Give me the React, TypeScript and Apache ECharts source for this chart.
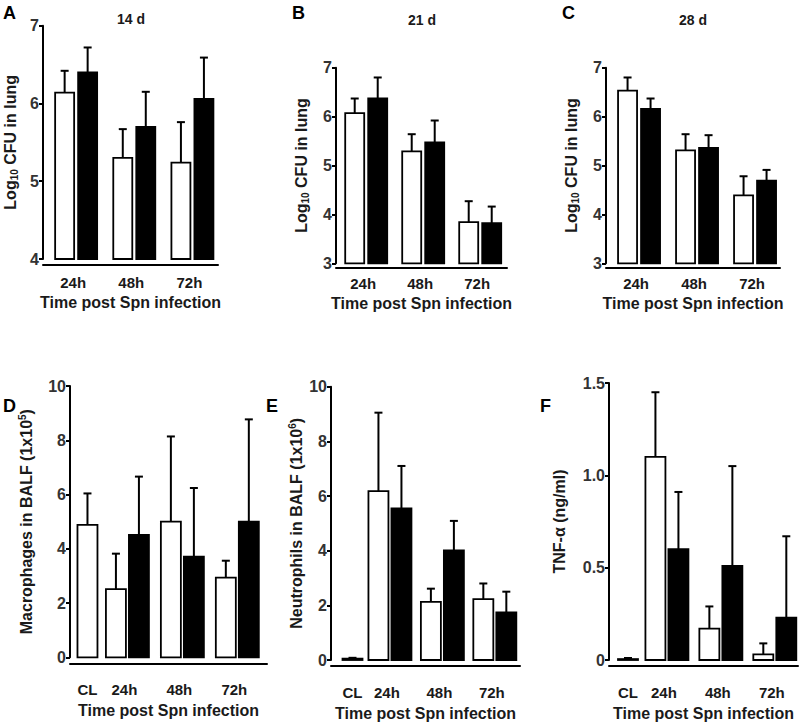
import React, { useEffect, useRef } from "react";
import * as echarts from "echarts";

const FONT = "'Liberation Sans', Arial, Helvetica, sans-serif";

// ---------- data ----------
const catsTop = ["24h", "48h", "72h"];
const catsBottom = ["CL", "24h", "48h", "72h"];

const d14White = [6.14, 5.3, 5.24];
const d14WhiteSd = [0.28, 0.37, 0.52];
const d14Black = [6.4, 5.7, 6.06];
const d14BlackSd = [0.32, 0.45, 0.53];

const d21White = [6.07, 5.29, 3.84];
const d21WhiteSd = [0.3, 0.35, 0.43];
const d21Black = [6.37, 5.47, 3.82];
const d21BlackSd = [0.43, 0.45, 0.34];

const d28White = [6.53, 5.31, 4.39];
const d28WhiteSd = [0.27, 0.33, 0.39];
const d28Black = [6.16, 5.36, 4.69];
const d28BlackSd = [0.21, 0.26, 0.22];

const macroWhite = [4.88, 2.51, 5.0, 2.94];
const macroWhiteSd = [1.16, 1.31, 3.14, 0.62];
const macroBlack = [null, 4.51, 3.71, 5.0];
const macroBlackSd = [null, 2.15, 2.53, 3.77];

const neutroWhite = [0.05, 6.18, 2.13, 2.23];
const neutroWhiteSd = [0.03, 2.87, 0.48, 0.57];
const neutroBlack = [null, 5.55, 4.01, 1.74];
const neutroBlackSd = [null, 1.55, 1.08, 0.76];

const tnfWhite = [0.005, 1.1, 0.17, 0.03];
const tnfWhiteSd = [0.006, 0.35, 0.12, 0.06];
const tnfBlack = [null, 0.6, 0.51, 0.23];
const tnfBlackSd = [null, 0.31, 0.54, 0.44];

const panelLetters = ["A", "B", "C", "D", "E", "F"];
const subtitles = ["14 d", "21 d", "28 d"];
const xTitle = "Time post Spn infection";
const yTitles = [
  "Log{sub|10} CFU in lung",
  "Log{sub|10} CFU in lung",
  "Log{sub|10} CFU in lung",
  "Macrophages in BALF (1x10{sup|5})",
  "Neutrophils in BALF (1x10{sup|6})",
  "TNF-α (ng/ml)",
];
const yMins = [4, 3, 3, 0, 0, 0];
const yMaxs = [7, 7, 7, 10, 10, 1.5];
const yIntervals = [1, 1, 1, 2, 2, 0.5];

const panels = [
  { cats: catsTop, white: d14White, whiteSd: d14WhiteSd, black: d14Black, blackSd: d14BlackSd },
  { cats: catsTop, white: d21White, whiteSd: d21WhiteSd, black: d21Black, blackSd: d21BlackSd },
  { cats: catsTop, white: d28White, whiteSd: d28WhiteSd, black: d28Black, blackSd: d28BlackSd },
  { cats: catsBottom, white: macroWhite, whiteSd: macroWhiteSd, black: macroBlack, blackSd: macroBlackSd },
  { cats: catsBottom, white: neutroWhite, whiteSd: neutroWhiteSd, black: neutroBlack, blackSd: neutroBlackSd },
  { cats: catsBottom, white: tnfWhite, whiteSd: tnfWhiteSd, black: tnfBlack, blackSd: tnfBlackSd },
];

// ---------- layout (pixels / styling only) ----------
const LAYOUT = [
  { left: 43, top: 25.7, width: 175, height: 233.3, xMin: -0.57, xMax: 2.44, xOff: 6, barW: 19, nameGapY: 24, labelGap: 17, nameGapX: 29 },
  { left: 336, top: 67.7, width: 171, height: 195.6, xMin: -0.53, xMax: 2.47, xOff: 4, barW: 19, nameGapY: 26, labelGap: 16, nameGapX: 28 },
  { left: 606, top: 67.7, width: 174, height: 195.6, xMin: -0.57, xMax: 2.43, xOff: 4, barW: 19, nameGapY: 26, labelGap: 16, nameGapX: 28 },
  { left: 70, top: 386, width: 197, height: 271.3, xMin: -0.045, xMax: 3.54, xOff: 6, barW: 20, nameGapY: 35, labelGap: 26, nameGapX: 39 },
  { left: 331, top: 386.7, width: 189, height: 273.3, xMin: -0.124, xMax: 3.48, xOff: 6, barW: 20, nameGapY: 26, labelGap: 26, nameGapX: 39 },
  { left: 609, top: 383, width: 189, height: 277, xMin: -0.074, xMax: 3.43, xOff: 6, barW: 20, nameGapY: 41, labelGap: 26, nameGapX: 39 },
];
const LETTER_POS = [
  [3, 4], [292, 4], [562, 4], [3, 397], [266, 397], [540, 397],
];
const SUB_POS = [[131, 19], [422, 20], [693, 20]];
const HALF_PITCH = 11.5;
const SINGLE_OFFSET = 15;
const CAP = 4;
const TEXT = "#1a1a1a";

export default function App() {
  const ref = useRef<HTMLDivElement>(null);

  useEffect(() => {
    if (!ref.current) return;
    const chart = echarts.init(ref.current, null, { renderer: "svg" });

    const richStyles = {
      sub: { fontSize: 10, lineHeight: 10, verticalAlign: "bottom", fontWeight: "bold", fontFamily: FONT, color: TEXT },
      sup: { fontSize: 10, lineHeight: 10, verticalAlign: "top", fontWeight: "bold", fontFamily: FONT, color: TEXT },
    };

    const grids = LAYOUT.map((L) => ({ left: L.left, top: L.top, width: L.width, height: L.height }));

    const xAxes = LAYOUT.map((L, k) => ({
      type: "value",
      gridIndex: k,
      min: L.xMin,
      max: L.xMax,
      offset: L.xOff,
      axisLine: { show: true, onZero: false, lineStyle: { color: "#000", width: 2 } },
      axisTick: { show: false },
      axisLabel: { show: false },
      splitLine: { show: false },
      name: xTitle,
      nameLocation: "middle",
      nameGap: L.nameGapX,
      nameTextStyle: { fontSize: 16, fontWeight: "bold", color: TEXT, fontFamily: FONT },
    }));

    const yAxes = LAYOUT.map((L, k) => ({
      type: "value",
      gridIndex: k,
      min: yMins[k],
      max: yMaxs[k],
      interval: yIntervals[k],
      axisLine: { show: true, onZero: false, lineStyle: { color: "#000", width: 2 } },
      axisTick: { show: true, length: 4, lineStyle: { color: "#000", width: 2 } },
      axisLabel: {
        fontSize: 16,
        fontWeight: "bold",
        color: "#333",
        fontFamily: FONT,
        margin: 4,
        formatter: (v: number) => (yIntervals[k] < 1 && v !== 0 ? v.toFixed(1) : String(v)),
      },
      splitLine: { show: false },
      name: yTitles[k],
      nameLocation: "middle",
      nameGap: L.nameGapY,
      nameTextStyle: {
        fontSize: 16,
        lineHeight: 18,
        fontWeight: "bold",
        color: TEXT,
        fontFamily: FONT,
        rich: richStyles,
      },
    }));

    const series = panels.map((p, k) => {
      const L = LAYOUT[k];
      return {
        type: "custom",
        xAxisIndex: k,
        yAxisIndex: k,
        clip: false,
        silent: true,
        data: p.cats.map((c, i) => [i, p.white[i]]),
        encode: { x: 0, y: 1 },
        renderItem: (params: any, api: any) => {
          const i = params.dataIndex;
          const base = api.coord([i, yMins[k]]);
          const cx = base[0];
          const baseY = base[1];
          const children: any[] = [];
          const drawBar = (center: number, mean: number, sd: number, fill: string) => {
            const top = api.coord([i, mean])[1];
            const errTop = api.coord([i, mean + sd])[1];
            children.push({
              type: "line",
              shape: { x1: center, y1: top, x2: center, y2: errTop },
              style: { stroke: "#000", lineWidth: 2 },
            });
            children.push({
              type: "line",
              shape: { x1: center - CAP, y1: errTop, x2: center + CAP, y2: errTop },
              style: { stroke: "#000", lineWidth: 2 },
            });
            children.push({
              type: "rect",
              shape: { x: center - L.barW / 2, y: top, width: L.barW, height: Math.max(baseY - top, 0.5) },
              style: { fill, stroke: "#000", lineWidth: 1.8 },
            });
          };
          const hasBlack = p.black[i] != null;
          let labelX = cx;
          if (hasBlack) {
            drawBar(cx - HALF_PITCH, p.white[i] as number, p.whiteSd[i] as number, "#fff");
            drawBar(cx + HALF_PITCH, p.black[i] as number, p.blackSd[i] as number, "#000");
            labelX = cx - 3;
          } else {
            drawBar(cx + SINGLE_OFFSET, p.white[i] as number, p.whiteSd[i] as number, "#fff");
            labelX = cx + SINGLE_OFFSET;
          }
          children.push({
            type: "text",
            style: {
              text: p.cats[i],
              x: labelX,
              y: baseY + L.xOff + L.labelGap,
              align: "center",
              verticalAlign: "middle",
              fontSize: 15,
              fontWeight: "bold",
              fontFamily: FONT,
              fill: TEXT,
            },
          });
          return { type: "group", children };
        },
      };
    });

    const graphics: any[] = [];
    panelLetters.forEach((t, k) => {
      graphics.push({
        type: "text",
        x: LETTER_POS[k][0],
        y: LETTER_POS[k][1],
        style: { text: t, fontSize: 18, fontWeight: "bold", fontFamily: FONT, fill: "#000", align: "left", verticalAlign: "top" },
      });
    });
    subtitles.forEach((t, k) => {
      graphics.push({
        type: "text",
        x: SUB_POS[k][0],
        y: SUB_POS[k][1],
        style: { text: t, fontSize: 14, fontWeight: "bold", fontFamily: FONT, fill: TEXT, align: "center", verticalAlign: "middle" },
      });
    });

    chart.setOption({
      animation: false,
      backgroundColor: "#fff",
      grid: grids,
      xAxis: xAxes,
      yAxis: yAxes,
      series,
      graphic: graphics,
    });

    return () => chart.dispose();
  }, []);

  return (
    <div
      ref={ref}
      style={{ position: "absolute", left: 0, top: 0, width: 800, height: 723, background: "#fff" }}
    />
  );
}
